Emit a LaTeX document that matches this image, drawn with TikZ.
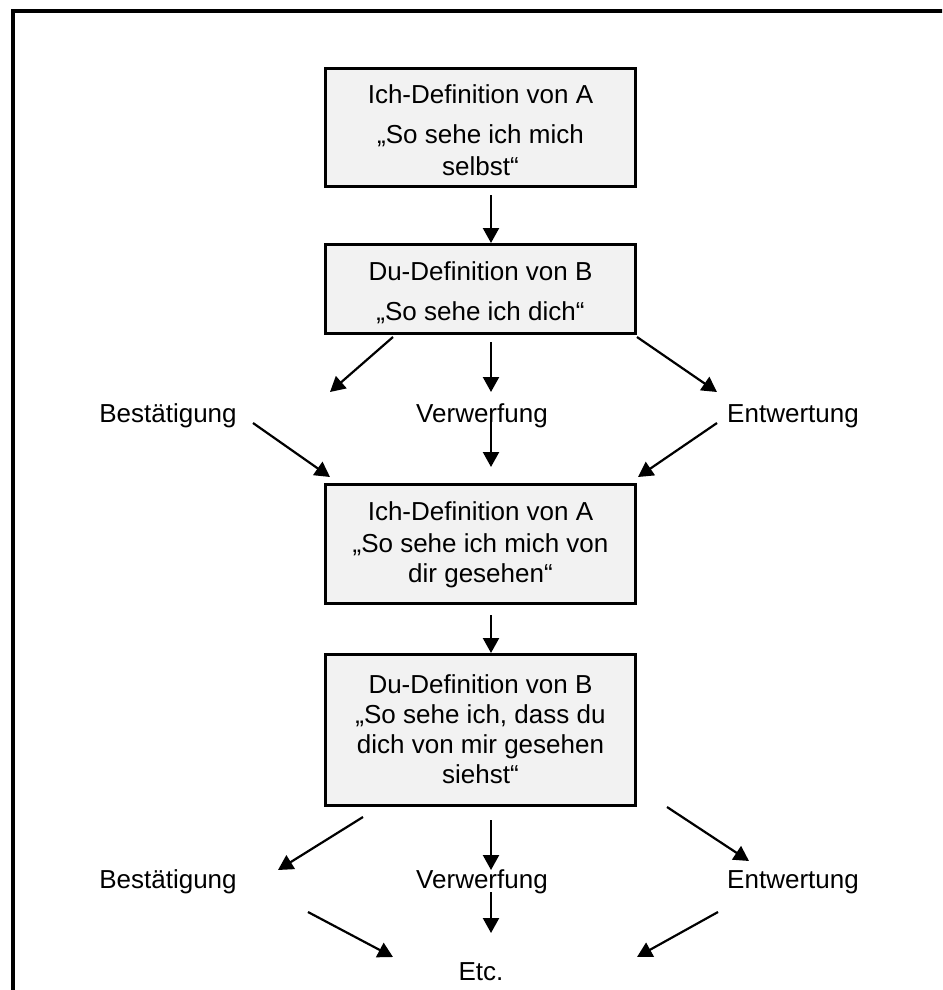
\documentclass[tikz,border=0pt]{standalone}
\usepackage{fontspec}
\setmainfont{Liberation Sans}
\usetikzlibrary{arrows.meta}
\definecolor{boxgray}{RGB}{242,242,242}
% text block of a box: height, distance of the first baseline from the top, lines
\newcommand{\boxlines}[3]{\parbox[t][#1][t]{310pt}{\centering\rule{0pt}{#2}#3}}
\begin{document}
\begin{tikzpicture}[x=1pt,y=-1pt,
  txt/.style={font=\fontsize{26}{30}\selectfont},
  defbox/.style={txt, draw, line width=3pt, fill=boxgray, inner sep=0pt,
    outer sep=1.5pt, anchor=north},
  answer/.style={txt, inner sep=0pt, anchor=base},
  arr/.style={line width=2.2pt, -{Triangle[length=15pt,width=16pt]}}]
\useasboundingbox (0,0) rectangle (942,990);
% outer frame
\begin{scope}
  \clip (0,0) rectangle (942,990);
  \draw[line width=4pt] (13,1010) -- (13,11.3) -- (970,11.3);
\end{scope}

% definition boxes
\node[defbox] (b1) at (480.5,67)
  {\boxlines{118pt}{34.5pt}{Ich-Definition von A\\[10pt]„So sehe ich mich\\[2pt] selbst“}};
\node[defbox] (b2) at (480.5,243)
  {\boxlines{89pt}{35.5pt}{Du-Definition von B\\[10pt]„So sehe ich dich“}};
\node[defbox] (b3) at (480.5,483)
  {\boxlines{119pt}{35.5pt}{Ich-Definition von A\\[2pt]„So sehe ich mich von\\ dir gesehen“}};
\node[defbox] (b4) at (480.5,653)
  {\boxlines{151pt}{38.5pt}{Du-Definition von B\\„So sehe ich, dass du\\ dich von mir gesehen\\ siehst“}};

% possible answers
\node[answer] (bs1) at (168,422) {Bestätigung};
\node[answer] (vw1) at (482,422) {Verwerfung};
\node[answer] (ew1) at (793,422) {Entwertung};
\node[answer] (bs2) at (168,888) {Bestätigung};
\node[answer] (vw2) at (482,888) {Verwerfung};
\node[answer] (ew2) at (793,888) {Entwertung};
\node[answer] (etc) at (481,980) {Etc.};

% b1 -> b2
\draw[arr] ([shift={(10.5,7)}]b1.south) -- ([shift={(10.5,0)}]b2.north);
% b2 -> answers
\draw[arr] ([shift={(-87.5,2)}]b2.south) -- ([shift={(162,-30)}]bs1.base);
\draw[arr] ([shift={(10.5,7)}]b2.south) -- ([shift={(9,-30)}]vw1.base);
\draw[arr] ([shift={(156.5,2)}]b2.south) -- ([shift={(-76,-30)}]ew1.base);
% answers -> b3
\draw[arr] ([shift={(85,1)}]bs1.base) -- ([shift={(-150.5,-6)}]b3.north);
\draw[arr] ([shift={(9,-2)}]vw1.base) -- ([shift={(10.5,-16)}]b3.north);
\draw[arr] ([shift={(-76,1)}]ew1.base) -- ([shift={(157.5,-6)}]b3.north);
% b3 -> b4
\draw[arr] ([shift={(10.5,10)}]b3.south) -- ([shift={(10.5,0)}]b4.north);
% b4 -> answers
\draw[arr] ([shift={(-117.5,10)}]b4.south) -- ([shift={(110,-18)}]bs2.base);
\draw[arr] ([shift={(10.5,13)}]b4.south) -- ([shift={(9,-18)}]vw2.base);
\draw[arr] ([shift={(186.5,0)}]b4.south) -- ([shift={(-44,-27)}]ew2.base);
% answers -> etc
\draw[arr] ([shift={(140,24)}]bs2.base) -- ([shift={(-88,-23)}]etc.base);
\draw[arr] ([shift={(9,4)}]vw2.base) -- ([shift={(10,-47)}]etc.base);
\draw[arr] ([shift={(-75,24)}]ew2.base) -- ([shift={(156,-23)}]etc.base);
\end{tikzpicture}
\end{document}
